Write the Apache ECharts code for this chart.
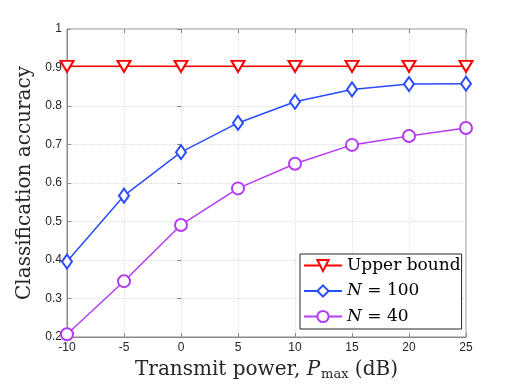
<!DOCTYPE html>
<html>
<head>
<meta charset="utf-8">
<script src="https://cdn.jsdelivr.net/npm/echarts@6/dist/echarts.min.js"></script>
<style>
  html, body { margin: 0; padding: 0; background: #fff; }
  #chart { width: 515px; height: 386px; }
</style>
</head>
<body>
<div id="chart"></div>
<script>
// transmit power (dB)
const powerDb = [-10, -5, 0, 5, 10, 15, 20, 25];
const upperBound = [0.903, 0.903, 0.903, 0.903, 0.903, 0.903, 0.903, 0.903];
const accN100 = [0.396, 0.567, 0.680, 0.756, 0.811, 0.843, 0.857, 0.858];
const accN40 = [0.207, 0.345, 0.491, 0.586, 0.650, 0.699, 0.722, 0.743];

const serif = "DejaVu Serif";
const sans = "Liberation Sans";
const gridColor = "#dcdcdc";
const boxColor = "#8a8a8a";

const pairs = (ys) => powerDb.map((x, i) => [x, ys[i]]);

const chart = echarts.init(document.getElementById("chart"));

const tick = { show: true, inside: true, length: 4, lineStyle: { color: boxColor } };

chart.setOption({
  animation: false,
  grid: { left: 67, right: 49, top: 29, bottom: 49, show: true, borderColor: boxColor, borderWidth: 1 },
  xAxis: [
    {
      type: "value", min: -10, max: 25, interval: 5,
      axisLine: { show: true, onZero: false, lineStyle: { color: boxColor } },
      axisTick: tick,
      splitLine: { show: true, lineStyle: { color: gridColor, type: "dotted" } },
      axisLabel: { color: "#262626", fontFamily: sans, fontSize: 12, margin: 5 },
      name: "Transmit power, {i|P}{sub|max} (dB)",
      nameLocation: "middle",
      nameGap: 22,
      nameTextStyle: {
        color: "#262626", fontFamily: serif, fontSize: 20,
        rich: {
          i: { fontFamily: serif, fontStyle: "italic", fontSize: 20, color: "#262626" },
          sub: { fontFamily: serif, fontSize: 13, color: "#262626", padding: [9, 0, 0, 1] }
        }
      }
    },
    {
      type: "value", position: "top", min: -10, max: 25, interval: 5,
      axisLine: { show: false }, axisTick: tick, axisLabel: { show: false }, splitLine: { show: false }
    }
  ],
  yAxis: [
    {
      type: "value", min: 0.2, max: 1, interval: 0.1,
      axisLine: { show: true, onZero: false, lineStyle: { color: boxColor } },
      axisTick: tick,
      splitLine: { show: true, lineStyle: { color: gridColor, type: "dotted" } },
      axisLabel: {
        color: "#262626", fontFamily: sans, fontSize: 12, margin: 5,
        formatter: (v) => String(+v.toFixed(1))
      },
      name: "Classification accuracy",
      nameLocation: "middle",
      nameGap: 30,
      nameTextStyle: { color: "#262626", fontFamily: serif, fontSize: 20 }
    },
    {
      type: "value", position: "right", min: 0.2, max: 1, interval: 0.1,
      axisLine: { show: false }, axisTick: tick, axisLabel: { show: false }, splitLine: { show: false }
    }
  ],
  legend: {
    orient: "vertical",
    left: 300, top: 254,
    padding: [3, 1, 4, 3],
    itemWidth: 38, itemHeight: 14, itemGap: 8.5,
    backgroundColor: "#fff",
    borderColor: "#262626", borderWidth: 1,
    textStyle: {
      color: "#000", fontFamily: serif, fontSize: 17,
      rich: {
        i: { fontFamily: serif, fontStyle: "italic", fontSize: 17, color: "#000" },
        t: { fontFamily: serif, fontSize: 17, color: "#000" }
      }
    },
    formatter: (name) => {
      if (name.startsWith("N")) return "{i|N}{t| = " + name.slice(4) + "}";
      return name;
    },
    data: ["Upper bound", "N = 100", "N = 40"]
  },
  series: [
    {
      name: "Upper bound", type: "line", data: pairs(upperBound),
      symbol: "emptyTriangle", symbolRotate: 180, symbolSize: [13, 11],
      lineStyle: { color: "#ff0000", width: 1.5 },
      itemStyle: { color: "#ff0000", borderWidth: 1.5 }
    },
    {
      name: "N = 100", type: "line", data: pairs(accN100),
      symbol: "emptyDiamond", symbolSize: [10, 14],
      lineStyle: { color: "#2a4cff", width: 1.5 },
      itemStyle: { color: "#2a4cff", borderWidth: 1.5 }
    },
    {
      name: "N = 40", type: "line", data: pairs(accN40),
      symbol: "emptyCircle", symbolSize: 12,
      lineStyle: { color: "#b43cf5", width: 1.5 },
      itemStyle: { color: "#b43cf5", borderWidth: 1.5 }
    }
  ]
});
</script>
</body>
</html>
